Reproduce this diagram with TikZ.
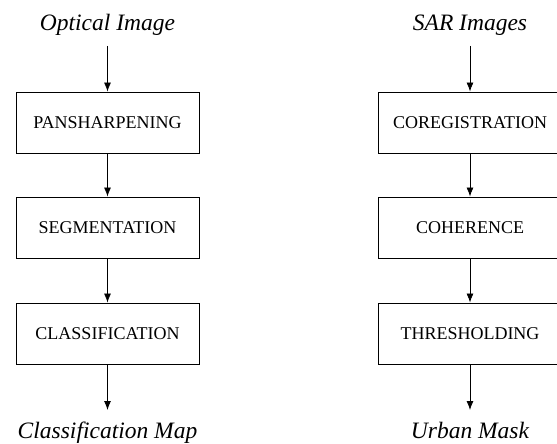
\documentclass[tikz,border=0pt]{standalone}
\usepackage{fontspec}
\setmainfont{Liberation Serif}
\usetikzlibrary{arrows.meta}
\begin{document}
\begin{tikzpicture}[x=1pt,y=-1pt,
  procbox/.style={draw, line width=0.9pt, minimum width=183pt, minimum height=61pt, inner sep=0pt, font=\fontsize{18}{20}\selectfont},
  iolabel/.style={inner sep=0pt, anchor=base, font=\fontsize{23.5}{26}\selectfont\itshape},
  flow/.style={line width=0.8pt, -{Latex[length=9pt,width=7pt]}}]
\useasboundingbox (0,0) rectangle (557,444);
\clip (0,0) rectangle (557,444);
% left chain
\node[iolabel] (oi) at (107.5,31) {Optical Image};
\coordinate (oit) at (107.5,46);
\node[procbox] (pan) at (107.5,122.5) {PANSHARPENING};
\node[procbox] (seg) at (107.5,227.5) {SEGMENTATION};
\node[procbox] (cls) at (107.5,333.5) {CLASSIFICATION};
\coordinate (cmt) at (107.5,410);
\node[iolabel] (cm) at (107.5,438) {Classification Map};
\draw[flow] (oit) -- (pan.north);
\draw[flow] (pan.south) -- (seg.north);
\draw[flow] (seg.south) -- (cls.north);
\draw[flow] (cls.south) -- (cmt);
% right chain
\node[iolabel] (sar) at (470,31) {SAR Images};
\coordinate (sart) at (470,46);
\node[procbox] (cor) at (470,122.5) {COREGISTRATION};
\node[procbox] (coh) at (470,227.5) {COHERENCE};
\node[procbox] (thr) at (470,333.5) {THRESHOLDING};
\coordinate (umt) at (470,410);
\node[iolabel] (um) at (470,438) {Urban Mask};
\draw[flow] (sart) -- (cor.north);
\draw[flow] (cor.south) -- (coh.north);
\draw[flow] (coh.south) -- (thr.north);
\draw[flow] (thr.south) -- (umt);
\end{tikzpicture}
\end{document}
